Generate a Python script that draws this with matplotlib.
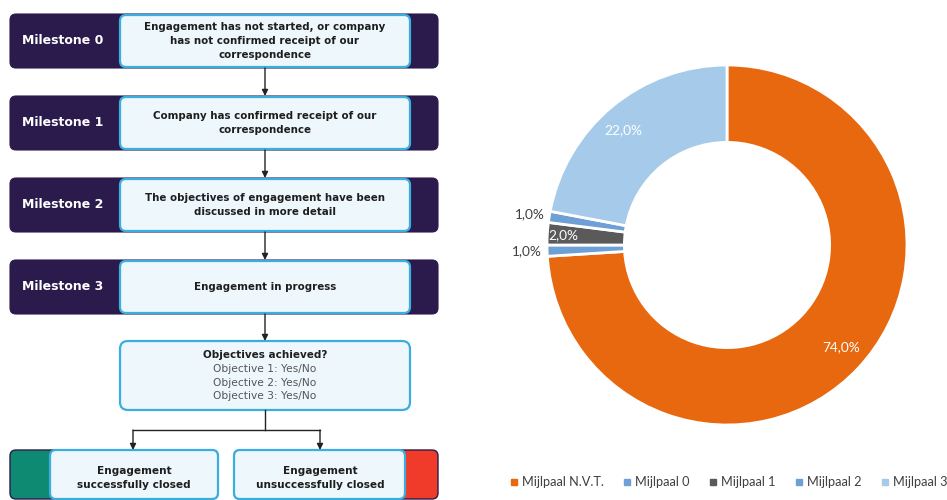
import matplotlib
matplotlib.use('Agg')
import matplotlib.pyplot as plt
from matplotlib.patches import FancyBboxPatch
from matplotlib.lines import Line2D
import numpy as np

# tekst van het stroomschema
milestones = ['Milestone 0', 'Milestone 1', 'Milestone 2', 'Milestone 3']
descriptions = [
    'Engagement has not started, or company\nhas not confirmed receipt of our\ncorrespondence',
    'Company has confirmed receipt of our\ncorrespondence',
    'The objectives of engagement have been\ndiscussed in more detail',
    'Engagement in progress',
]
objective_title = 'Objectives achieved?'
objective_lines = ['Objective 1: Yes/No', 'Objective 2: Yes/No', 'Objective 3: Yes/No']
outcomes = ['Engagement\nsuccessfully closed', 'Engagement\nunsuccessfully closed']

# donut-data (%)
categories = ['Mijlpaal N.V.T.', 'Mijlpaal 0', 'Mijlpaal 1', 'Mijlpaal 2', 'Mijlpaal 3']
shares = [74.0, 1.0, 2.0, 1.0, 22.0]
colors = ['#E8680F', '#6E9FD5', '#5A5A5A', '#6E9FD5', '#A6CBEA']

DARK = '#2B1A4C'
LIGHT = '#EEF7FB'
CYAN = '#3AAEDF'
GREEN = '#0F8A72'
RED = '#F03B2A'
TXT = '#1E1E1E'

fig = plt.figure(figsize=(9.47, 5.0), dpi=100)
ax = fig.add_axes([0, 0, 1, 1])
ax.set_xlim(0, 947)
ax.set_ylim(500, 0)
ax.axis('off')


def rbox(x0, y0, x1, y1, fc, ec, lw, r=6, z=1):
    p = FancyBboxPatch((x0 + r, y0 + r), x1 - x0 - 2 * r, y1 - y0 - 2 * r,
                       boxstyle=f'round,pad={r},rounding_size={r}',
                       fc=fc, ec=ec, lw=lw, zorder=z)
    ax.add_patch(p)


def arrow(x, y0, y1):
    ax.annotate('', xy=(x, y1), xytext=(x, y0),
                arrowprops=dict(arrowstyle='-|>', color='#222222', lw=1,
                                mutation_scale=9, shrinkA=0, shrinkB=0))


# mijlpaal-rijen
row_top = [14, 96, 178, 260]
row_h = 54
cx = 265
for i, (top, name, desc) in enumerate(zip(row_top, milestones, descriptions)):
    rbox(10, top, 438, top + row_h, DARK, DARK, 0.8)
    rbox(120, top + 1, 410, top + row_h - 1, LIGHT, CYAN, 1.6, z=2)
    ax.text(63, top + row_h / 2, name, color='white', fontweight='bold',
            fontsize=9, ha='center', va='center', zorder=3)
    ax.text(cx, top + row_h / 2, desc, color=TXT, fontweight='bold',
            fontsize=7.4, ha='center', va='center', linespacing=1.5, zorder=3)
    nxt = row_top[i + 1] if i + 1 < len(row_top) else 341
    arrow(cx, top + row_h, nxt)

# doelstellingen
rbox(120, 341, 410, 410, LIGHT, CYAN, 1.6, r=8, z=2)
ax.text(cx, 355, objective_title, color=TXT, fontweight='bold', fontsize=7.5,
        ha='center', va='center', zorder=3)
for k, line in enumerate(objective_lines):
    ax.text(cx, 369 + k * 13.5, line, color='#555555', fontsize=7.7,
            ha='center', va='center', zorder=3)

# vertakking
ax.plot([cx, cx], [410, 430], color='#222222', lw=1)
ax.plot([133, 320], [430, 430], color='#222222', lw=1)
arrow(133, 430, 450)
arrow(320, 430, 450)

# eindstatus
rbox(10, 450, 218, 499, GREEN, DARK, 1)
rbox(50, 450, 218, 499, LIGHT, CYAN, 1.6, z=2)
rbox(234, 450, 438, 499, RED, DARK, 1)
rbox(234, 450, 405, 499, LIGHT, CYAN, 1.6, z=2)
ax.text(134, 478, outcomes[0], color=TXT, fontweight='bold', fontsize=7.6,
        ha='center', va='center', linespacing=1.5, zorder=3)
ax.text(320, 478, outcomes[1], color=TXT, fontweight='bold', fontsize=7.6,
        ha='center', va='center', linespacing=1.5, zorder=3)

# donut
ax_d = fig.add_axes([547 / 947, 75 / 500, 360 / 947, 360 / 500])
wedges, _ = ax_d.pie(shares, colors=colors, startangle=90, counterclock=False,
                     radius=1, wedgeprops=dict(width=0.43, edgecolor='white', linewidth=2))
ax_d.set_xlim(-1, 1)
ax_d.set_ylim(-1, 1)
ax_d.set_aspect('equal')

label_r = [0.85, 1.11, 0.91, 1.11, 0.86]
angle_shift = [1.5, 0, 0, 0, 2.5]
label_col = ['white', '#404040', 'white', '#404040', 'white']
for w, v, r, s, c in zip(wedges, shares, label_r, angle_shift, label_col):
    ang = np.deg2rad((w.theta1 + w.theta2) / 2 + s)
    ax_d.text(r * np.cos(ang), r * np.sin(ang), f'{v:.1f}%'.replace('.', ','),
              color=c, fontsize=9.8, family='Lato', ha='center', va='center')

handles = [Line2D([], [], marker='s', ls='', color=c, markersize=4) for c in colors]
fig.legend(handles, categories, loc='center', bbox_to_anchor=(728 / 947, 1 - 482 / 500),
           ncol=5, frameon=False, prop={'family': 'Lato', 'size': 9.2},
           handlelength=0.8, handletextpad=0.25, columnspacing=1.4, labelcolor='#404040')

plt.savefig('out.png', dpi=100)
plt.close()
